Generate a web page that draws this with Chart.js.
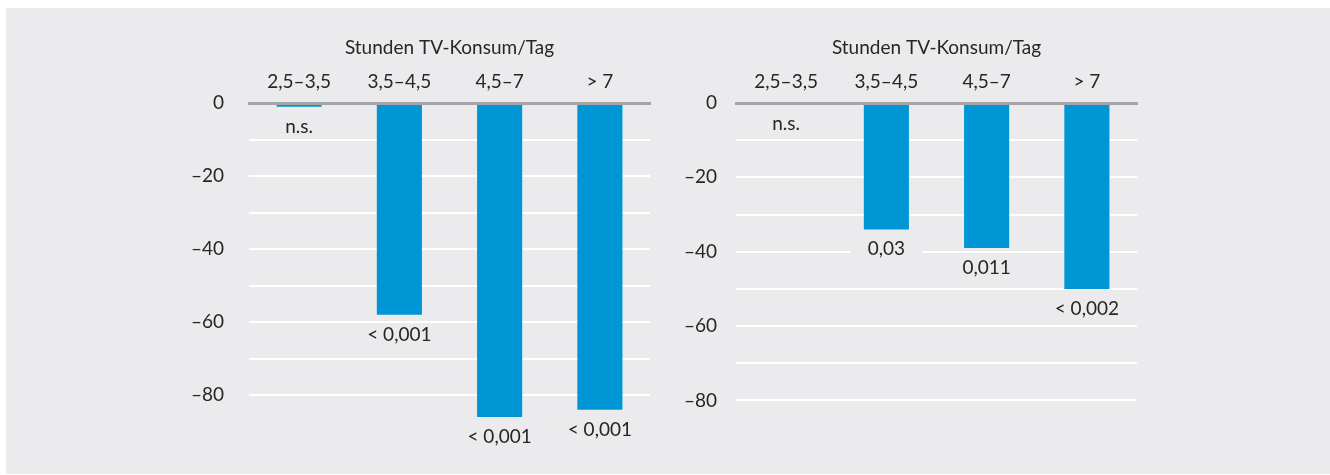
<!DOCTYPE html>
<html>
<head>
<meta charset="utf-8">
<script src="https://cdn.jsdelivr.net/npm/chart.js@4.4.0/dist/chart.umd.min.js"></script>
<style>
  body { margin: 0; background: #fff; }
  #wrap { position: relative; width: 1330px; height: 475px; background: #fff; overflow: hidden; }
  #panel { position: absolute; left: 6px; top: 8px; width: 1324px; height: 466px; background: #ebebed; }
  canvas { position: absolute; top: 8px; }
  #links { left: 130px; }
  #rechts { left: 660px; }
</style>
</head>
<body>
<div id="wrap">
  <div id="panel"></div>
  <canvas id="links" width="530" height="460"></canvas>
  <canvas id="rechts" width="540" height="460"></canvas>
</div>
<script>
// Daten
const kategorien = ['2,5–3,5', '3,5–4,5', '4,5–7', '> 7'];
const werteLinks = [-1, -58, -86, -84];
const werteRechts = [-0.3, -34, -39, -50];
const pLinks = ['n.s.', '< 0,001', '< 0,001', '< 0,001'];
const pRechts = ['n.s.', '0,03', '0,011', '< 0,002'];
const achsenTitel = 'Stunden TV-Konsum/Tag';
const yTicks = [0, -20, -40, -60, -80];

const blau = '#0096d6';
const panelFarbe = '#ebebed';
const textFarbe = '#262626';

Chart.defaults.font.family = 'Lato';
Chart.defaults.font.size = 19;
Chart.defaults.color = textFarbe;

// p-Werte unter den Balken
const pWertePlugin = {
    id: 'pwerte',
    afterDatasetsDraw: (chart, args, opts) => {
        const ctx = chart.ctx;
        const meta = chart.getDatasetMeta(0);
        ctx.save();
        ctx.font = '19px Lato';
        ctx.textAlign = 'center';
        ctx.textBaseline = 'alphabetic';
        meta.data.forEach((bar, i) => {
            const txt = opts.texte[i];
            const y = bar.y + 26;
            const w = ctx.measureText(txt).width;
            ctx.fillStyle = panelFarbe;
            ctx.fillRect(bar.x - w / 2 - 17, y - 16, w + 34, 20);
            ctx.fillStyle = textFarbe;
            ctx.fillText(txt, bar.x, y);
        });
        ctx.restore();
    }
};

grafik = (id, werte, texte, yBreite, tickAbstand, rechtsPad) => {
    const ctx = document.getElementById(id);
    return new Chart(ctx, {
        type: 'bar',
        data: {
            labels: kategorien,
            datasets: [{
                data: werte,
                backgroundColor: blau,
                borderWidth: 0,
                barPercentage: 0.45,
                categoryPercentage: 1
            }]
        },
        plugins: [pWertePlugin],
        options: {
            responsive: false,
            animation: false,
            layout: { padding: { left: 0, right: rechtsPad, top: 0, bottom: 29 } },
            plugins: {
                legend: { display: false },
                tooltip: { enabled: false },
                pwerte: { texte: texte }
            },
            scales: {
                x: {
                    position: 'top',
                    grid: { display: false, drawTicks: false },
                    border: { color: '#a5a5a7', width: 3, z: 1 },
                    ticks: { padding: 10, color: textFarbe },
                    title: {
                        display: true,
                        text: achsenTitel,
                        color: textFarbe,
                        padding: { top: 28, bottom: 0 }
                    },
                    afterFit: s => { s.height = 95; }
                },
                y: {
                    min: -90,
                    max: 0,
                    grid: {
                        drawTicks: false,
                        lineWidth: 2,
                        color: c => (c.tick.value === -90 || c.tick.value === 0) ? 'rgba(0,0,0,0)' : '#ffffff'
                    },
                    border: { display: false },
                    ticks: {
                        stepSize: 10,
                        padding: tickAbstand,
                        color: textFarbe,
                        callback: v => yTicks.includes(v) ? (v < 0 ? '–' + Math.abs(v) : String(v)) : ''
                    },
                    afterFit: s => { s.width = yBreite; }
                }
            }
        }
    });
};

grafik('links', werteLinks, pLinks, 119, 25, 10);
grafik('rechts', werteRechts, pRechts, 76, 19, 63);
</script>
</body>
</html>
